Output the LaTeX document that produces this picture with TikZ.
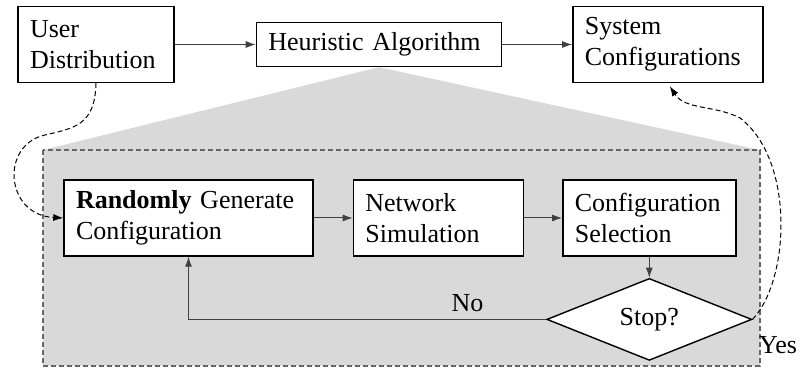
\documentclass[tikz,border=0pt]{standalone}
\usepackage{fontspec}
\setmainfont{Liberation Serif}
\newfontfamily\diagfont{Liberation Serif}
\usetikzlibrary{shapes.geometric,arrows.meta,positioning,calc}

\tikzset{
  block/.style={draw, line width=0.7pt, fill=white, align=left, inner xsep=6pt, inner ysep=2pt, minimum height=38pt},
  flow/.style={-{Latex[length=5pt,width=3.5pt]}, line width=0.5pt, black!75},
  jump/.style={-{Latex[length=5pt,width=3.5pt]}, line width=0.5pt, dash pattern=on 2.5pt off 1.5pt},
}

\begin{document}
\begin{tikzpicture}[x=0.5pt, y=-0.5pt, font=\diagfont\fontsize{13}{15.5}\selectfont]
    \useasboundingbox (0,0) rectangle (808,368);

    % top row
    \node[block, text width=66pt] (user) at (96,44.5) {User\\Distribution};
    \node[block, text width=110.5pt, minimum height=22pt, right=40.5pt of user] (heur) {Heuristic Algorithm};
    \node[block, text width=83pt, right=35pt of heur] (sys) {System\\Configurations};

    % zoomed-in part of the algorithm
    \coordinate (zoomL) at (43,150);
    \coordinate (zoomR) at (760,150);
    \coordinate (zoomB) at (43,366);
    \fill[black!15] (heur.south) -- (zoomL) -- (zoomR) -- cycle;
    \draw[black!60, fill=black!15, line width=0.6pt, dash pattern=on 2.5pt off 1.5pt] (zoomL) rectangle (zoomB -| zoomR);

    \node[block, text width=112.5pt] (gen) at (188.5,218) {\textbf{Randomly} Generate\\Configuration};
    \node[block, text width=73pt, right=19.5pt of gen] (sim) {Network\\Simulation};
    \node[block, text width=74.5pt, right=19pt of sim] (sel) {Configuration\\Selection};
    \node[draw, line width=0.7pt, fill=white, diamond, aspect=2.5, minimum width=102.5pt, minimum height=41pt, inner sep=0pt, below=10.5pt of sel] (stop) {Stop?};
    \node (yes) at (778,345) {Yes};

    \draw[flow] (user) -- (heur);
    \draw[flow] (heur) -- (sys);
    \draw[flow] (gen) -- (sim);
    \draw[flow] (sim) -- (sel);
    \draw[flow] (sel) -- (stop);
    \draw[flow] (stop.west) -| (gen.south) node[pos=0.11, above, text=black] {No};

    \draw[jump] (user.south) .. controls (95,125) and (75,128) .. (45,135)
        .. controls (0,145) and (5,215) .. (gen.west);
    \draw[jump] (stop.east) .. controls (790,280) and (795,160) .. (740,118)
        .. controls (715,105) and (685,110) .. ($(sys.south)+(2,3)$);
\end{tikzpicture}
\end{document}
